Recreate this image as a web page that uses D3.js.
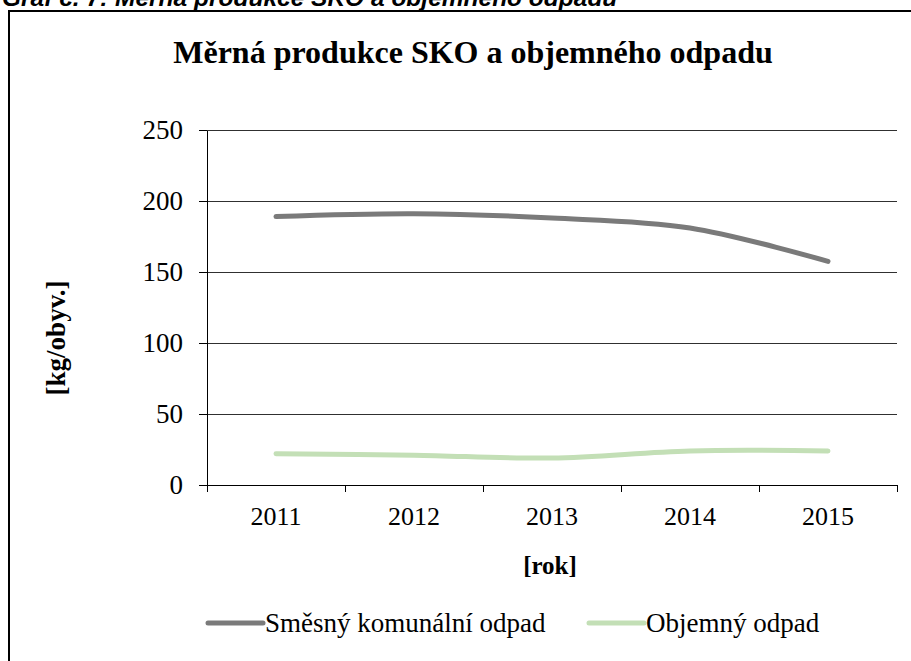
<!DOCTYPE html>
<html>
<head>
<meta charset="utf-8">
<script src="https://cdn.jsdelivr.net/npm/d3@7"></script>
<style>
  body { margin: 0; background: #fff; }
  svg { display: block; }
</style>
</head>
<body>
<svg id="chart" width="911" height="661"></svg>
<script>
// data
const years = ['2011', '2012', '2013', '2014', '2015'];
const sko = [189, 191, 188, 181, 157.5];
const objemny = [22, 21, 19, 24, 24];
const yTicks = [0, 50, 100, 150, 200, 250];
const seriesNames = ['Směsný komunální odpad', 'Objemný odpad'];
const seriesColors = ['#7a7a7a', '#c3dfb6'];

const SERIF = '"Liberation Serif", "Times New Roman", serif';

const svg = d3.select('#chart');

// caption above the frame (cut off at the top)
svg.append('text')
    .attr('x', 2).attr('y', 6)
    .style('font-family', '"Liberation Sans", Arial, sans-serif')
    .style('font-weight', 'bold').style('font-style', 'italic')
    .style('font-size', '24.5px')
    .text('Graf č. 7: Měrná produkce SKO a objemného odpadu');

// frame of the chart
svg.append('rect')
    .attr('x', 9).attr('y', 11)
    .attr('width', 960).attr('height', 720)
    .attr('fill', '#fff').attr('stroke', '#000').attr('stroke-width', 2);

const plot = { left: 207, right: 897, top: 130, bottom: 485 };

const x = d3.scaleBand().domain(years).range([plot.left, plot.right]).padding(0);
const y = d3.scaleLinear().domain([0, 250]).range([plot.bottom, plot.top]);
const cx = (d) => x(d) + x.bandwidth() / 2;

// title
svg.append('text')
    .attr('x', 473).attr('y', 63)
    .attr('text-anchor', 'middle')
    .style('font-family', SERIF)
    .style('font-size', '32px').style('font-weight', 'bold')
    .text('Měrná produkce SKO a objemného odpadu');

// mřížka
svg.append('g')
    .attr('shape-rendering', 'crispEdges')
    .selectAll('line')
    .data(yTicks.filter(d => d > 0))
    .join('line')
    .attr('x1', plot.left).attr('x2', plot.right)
    .attr('y1', d => y(d)).attr('y2', d => y(d))
    .attr('stroke', '#303030').attr('stroke-width', 1);

// osa Y
const yAxis = svg.append('g')
    .attr('transform', `translate(${plot.left},0)`)
    .attr('shape-rendering', 'crispEdges')
    .call(d3.axisLeft(y).tickValues(yTicks).tickSize(8).tickPadding(16).tickSizeOuter(0));
yAxis.select('.domain').attr('stroke', '#000');
yAxis.selectAll('.tick line').attr('stroke', '#000');
yAxis.selectAll('.tick text')
    .style('font-family', SERIF)
    .style('font-size', '27px');

// osa X
const xAxis = svg.append('g')
    .attr('transform', `translate(0,${plot.bottom})`)
    .attr('shape-rendering', 'crispEdges')
    .call(d3.axisBottom(x).tickSize(0).tickPadding(22));
xAxis.select('.domain').attr('stroke', '#000');
xAxis.selectAll('.tick text')
    .style('font-family', SERIF)
    .style('font-size', '26px');
// tick marks between categories
xAxis.append('g').selectAll('line')
    .data(years.concat(['end']))
    .join('line')
    .attr('x1', (d, i) => plot.left + i * x.bandwidth())
    .attr('x2', (d, i) => plot.left + i * x.bandwidth())
    .attr('y1', 0).attr('y2', 7)
    .attr('stroke', '#000');

// axis titles
svg.append('text')
    .attr('transform', 'translate(65,338) rotate(-90)')
    .attr('text-anchor', 'middle')
    .style('font-family', SERIF)
    .style('font-size', '27px').style('font-weight', 'bold')
    .text('[kg/obyv.]');

svg.append('text')
    .attr('x', 550).attr('y', 574)
    .attr('text-anchor', 'middle')
    .style('font-family', SERIF)
    .style('font-size', '25px').style('font-weight', 'bold')
    .text('[rok]');

// lines (smoothed like Excel)
const line = d3.line()
    .x((d, i) => cx(years[i]))
    .y(d => y(d))
    .curve(d3.curveCatmullRom.alpha(0.5));

[sko, objemny].forEach((values, i) => {
    svg.append('path')
        .datum(values)
        .attr('d', line)
        .attr('fill', 'none')
        .attr('stroke', seriesColors[i])
        .attr('stroke-width', 5)
        .attr('stroke-linecap', 'round');
});

// legend
const legendX = [208, 589];
const legend = svg.append('g');
seriesNames.forEach((name, i) => {
    legend.append('line')
        .attr('x1', legendX[i]).attr('x2', legendX[i] + 55)
        .attr('y1', 623).attr('y2', 623)
        .attr('stroke', seriesColors[i]).attr('stroke-width', 5)
        .attr('stroke-linecap', 'round');
    legend.append('text')
        .attr('x', legendX[i] + 57).attr('y', 632)
        .style('font-family', SERIF)
        .style('font-size', '27px')
        .text(name);
});
</script>
</body>
</html>
